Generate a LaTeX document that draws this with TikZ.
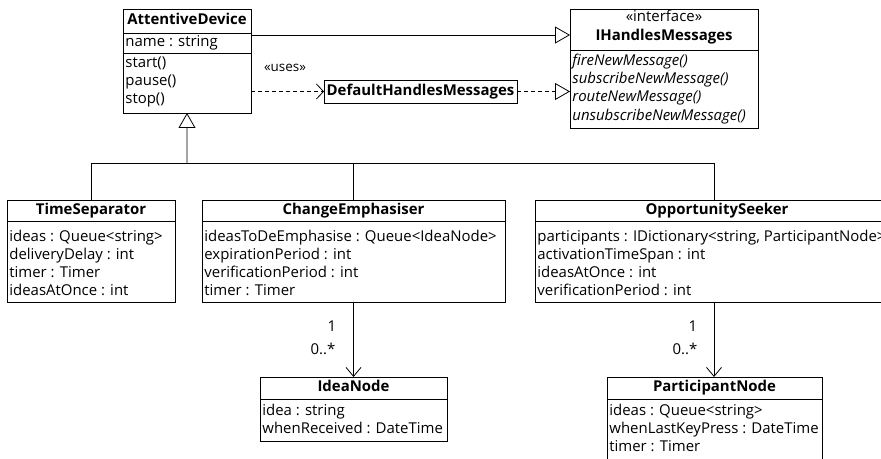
\documentclass[tikz,border=0pt]{standalone}
\usepackage{fontspec}
\setmainfont{Open Sans}
\usetikzlibrary{arrows.meta}
\begin{document}
\begin{tikzpicture}[x=1bp,y=-1bp,
  line width=0.8bp,
  cls/.style={draw, inner sep=0, outer sep=0, anchor=north west},
  plain/.style={font=\fontsize{15}{17}\selectfont, inner sep=0, text height=11bp, text depth=3.5bp},
  ttl/.style={plain, font=\fontsize{15}{17}\selectfont\bfseries},
  att/.style={plain, anchor=west},
  opi/.style={att, font=\fontsize{15}{17}\selectfont\itshape},
  small/.style={plain, font=\fontsize{13.5}{15}\selectfont},
  gen/.style={-{Triangle[open, length=15bp, width=17bp]}},
  dep/.style={dashed, dash pattern=on 4bp off 3bp, -{Straight Barb[length=7bp, width=15bp]}},
  real/.style={dashed, dash pattern=on 4bp off 3bp, -{Triangle[open, length=15bp, width=17bp]}},
  assoc/.style={-{Straight Barb[length=9bp, width=15bp]}}
]
\useasboundingbox (0,0) rectangle (881,459);
\clip (0,0) rectangle (881,459);

% AttentiveDevice
\node[cls, minimum width=128bp, minimum height=104bp] (ad) at (123,9) {};
\draw ([yshift=-24bp]ad.north west) -- ([yshift=-24bp]ad.north east);
\draw ([yshift=-44bp]ad.north west) -- ([yshift=-44bp]ad.north east);
\node[ttl] (adt) at (187,21) {AttentiveDevice};
\node[att] (ad1) at (125,43) {name : string};
\node[att] (ad2) at (125,64) {start()};
\node[att] (ad3) at (125,82) {pause()};
\node[att] (ad4) at (125,100) {stop()};

% IHandlesMessages
\node[cls, minimum width=188bp, minimum height=119bp] (ih) at (570,9) {};
\draw ([yshift=-41bp]ih.north west) -- ([yshift=-41bp]ih.north east);
\node[plain] (ihs) at (664,18) {«interface»};
\node[ttl] (iht) at (664,37) {IHandlesMessages};
\node[opi] (ih1) at (572,62) {fireNewMessage()};
\node[opi] (ih2) at (572,80) {subscribeNewMessage()};
\node[opi] (ih3) at (572,98) {routeNewMessage()};
\node[opi] (ih4) at (572,117) {unsubscribeNewMessage()};

% DefaultHandlesMessages
\node[cls, minimum width=193bp, minimum height=23bp] (dh) at (324,80) {};
\node[ttl] (dht) at (420.5,91.5) {DefaultHandlesMessages};

% TimeSeparator
\node[cls, minimum width=168bp, minimum height=102bp] (ts) at (7,200) {};
\draw ([yshift=-21.5bp]ts.north west) -- ([yshift=-21.5bp]ts.north east);
\node[ttl] (tst) at (91,211) {TimeSeparator};
\node[att] (ts1) at (9,238) {ideas : Queue<string>};
\node[att] (ts2) at (9,256) {deliveryDelay : int};
\node[att] (ts3) at (9,274) {timer : Timer};
\node[att] (ts4) at (9,292) {ideasAtOnce : int};

% ChangeEmphasiser
\node[cls, minimum width=303bp, minimum height=102bp] (ce) at (202,200) {};
\draw ([yshift=-21.5bp]ce.north west) -- ([yshift=-21.5bp]ce.north east);
\node[ttl] (cet) at (353.5,211) {ChangeEmphasiser};
\node[att] (ce1) at (204,238) {ideasToDeEmphasise : Queue<IdeaNode>};
\node[att] (ce2) at (204,256) {expirationPeriod : int};
\node[att] (ce3) at (204,274) {verificationPeriod : int};
\node[att] (ce4) at (204,292) {timer : Timer};

% OpportunitySeeker (extends beyond the right edge, as in the reference)
\node[cls, minimum width=358bp, minimum height=102bp] (os) at (535,200) {};
\draw ([yshift=-21.5bp]os.north west) -- ([yshift=-21.5bp]os.north east);
\node[ttl] (ost) at (717,211) {OpportunitySeeker};
\node[att] (os1) at (537,238) {participants : IDictionary<string, ParticipantNode>};
\node[att] (os2) at (537,256) {activationTimeSpan : int};
\node[att] (os3) at (537,274) {ideasAtOnce : int};
\node[att] (os4) at (537,292) {verificationPeriod : int};

% IdeaNode
\node[cls, minimum width=187bp, minimum height=64bp] (in) at (260,377) {};
\draw ([yshift=-22bp]in.north west) -- ([yshift=-22bp]in.north east);
\node[ttl] (int) at (353.5,388) {IdeaNode};
\node[att] (in1) at (262,412) {idea : string};
\node[att] (in2) at (262,430) {whenReceived : DateTime};

% ParticipantNode (extends beyond the bottom edge, as in the reference)
\node[cls, minimum width=215bp, minimum height=100bp] (pn) at (607,377) {};
\draw ([yshift=-22bp]pn.north west) -- ([yshift=-22bp]pn.north east);
\node[ttl] (pnt) at (714.5,388) {ParticipantNode};
\node[att] (pn1) at (609,412) {ideas : Queue<string>};
\node[att] (pn2) at (609,430) {whenLastKeyPress : DateTime};
\node[att] (pn3) at (609,448) {timer : Timer};

% generalization to interface
\draw[gen] ([yshift=-26bp]ad.north east) -- ([yshift=-26bp]ih.north west);
% uses dependency
\draw[dep] (ad.east |- dh.west) -- (dh.west);
\node[small] (uses) at (285,68) {«uses»};
% realization
\draw[real] (dh.east) -- (dh.east -| ih.west);

% inheritance tree
\coordinate (bus) at (187,163);
\draw[gen] (bus) -- (ad.south);
\draw (ts.north) |- (bus);
\draw (ce.north) |- (bus);
\draw (os.north) |- (bus);

% associations
\draw[assoc] (ce.south) -- (in.north);
\node[plain] (m1) at (332,328) {1};
\node[plain] (m2) at (323,351) {0..*};
\coordinate (pntop) at (os.south |- pn.north);
\draw[assoc] (os.south) -- (pntop);
\node[plain] (m3) at (693,328) {1};
\node[plain] (m4) at (685,351) {0..*};
\end{tikzpicture}
\end{document}
